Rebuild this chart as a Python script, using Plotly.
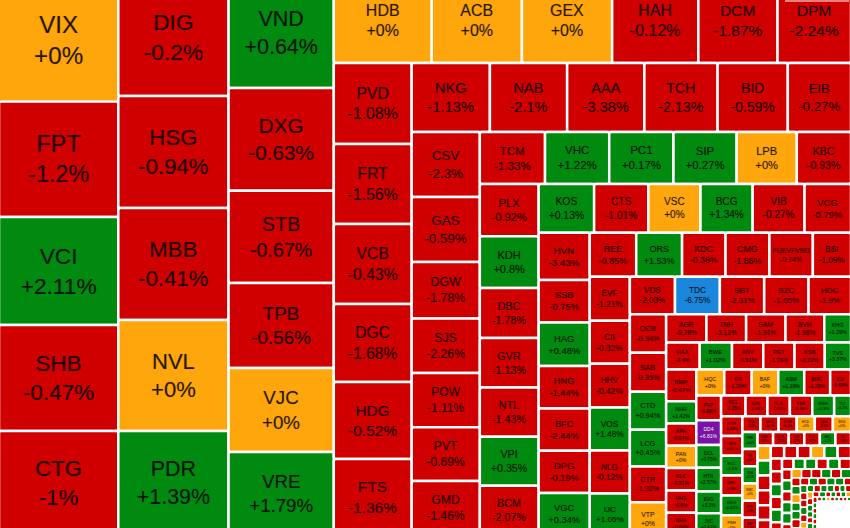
# Market heat map (treemap) of Vietnamese stocks, % change per ticker
import math
import plotly.graph_objects as go

FONT = 'Liberation Sans, Arial, sans-serif'
RED = '#D00000'
GREEN = '#008A0F'
AMBER = '#FFA60D'
FLOOR = '#1A87DC'
CEILING = '#7A12A8'

TICKERS = [
    'VIX', 'FPT', 'VCI', 'SHB', 'CTG',
    'DIG', 'HSG', 'MBB', 'NVL', 'PDR',
    'VND', 'DXG', 'STB', 'TPB', 'VJC', 'VRE',
    'HDB', 'ACB', 'GEX', 'HAH', 'DCM', 'DPM',
    'PVD', 'FRT', 'VCB', 'DGC', 'HDG', 'FTS',
    'NKG', 'NAB', 'AAA', 'TCH', 'BID', 'EIB',
    'CSV', 'GAS', 'DGW', 'SJS', 'POW', 'PVT', 'GMD',
    'TCM', 'VHC', 'PC1', 'SIP', 'LPB', 'KBC',
    'PLX', 'KDH', 'DBC', 'GVR', 'NTL', 'VPI', 'BCM',
    'KOS', 'CTS', 'VSC', 'BCG', 'VIB', 'VCG',
    'HVN', 'SSB', 'HAG', 'HNG', 'BFC', 'DPG', 'VGC',
    'REE', 'ORS', 'KDC', 'CMG', 'FUEVFVND', 'BSI',
    'EVF', 'CII', 'HHV', 'VOS', 'NLG', 'IJC',
    'VDS', 'TDC', 'SBT', 'SZC', 'HDC',
    'OCB', 'SAB', 'CTD', 'LCG', 'CTR', 'VTP',
    'AGR', 'TNH', 'SAM', 'BVH', 'KHG',
    'HAX', 'BWE', 'ANV', 'PET', 'KSB', 'TVS',
    'BMP', 'NHH', 'APH', 'PAN', 'DLC', 'HHS', 'NHA',
    'HQC', 'IDI', 'BAF', 'ASM', 'BMC', 'KIV',
    'PVP', 'DD4', 'DCL', 'HTN', 'EVG', 'JVC',
    'RCL', 'DRL', 'TLG', 'PNB', 'MSH', 'TV2',
    'SCR', 'YEG', 'ELC', 'DHC', 'GEG', 'PSH',
    'TTA', 'DXS', 'CSM', 'HCD', 'CRE', 'SKG',
    'PHR', 'GIL', 'TLH', 'SMC', 'VPH', 'AAT',
    'DBD', 'QCG', 'LDG', 'TCT', 'HBC', 'ITC',
    'HAP', 'ABS', 'TDH', 'VOF', 'FIT', 'NAF',
    'DAH', 'HID', 'VNG', 'CKG', 'APC', 'SFG',
    'FCN', 'PTB', 'DPR', 'GSP', 'TIP', 'VIP',
    'ST8', 'TNI', 'CCL', 'TDP', 'LSS', 'HVH',
    'VTO', 'DRC', 'PDN', 'SHI', 'CTF', 'TVB',
    'HUB', 'AST', 'C32', 'SVC', 'DTA', 'TYA',
    'HII', 'CLC', 'COM', 'DSN', 'GTA', 'ACC',
    'MIG', 'TCL', 'SRC', 'KMR', 'PGC', 'VAF',
    'DHA', 'SSC', 'THG', 'PJT', 'HTL', 'VFG',
    'CMV', 'LBM', 'SGT', 'TNC', 'RAL', 'HMC',
    'TMT', 'PLP', 'SVI', 'MDG', 'CTI', 'HAR',
    'EMC', 'SGR', 'PIT', 'VRC', 'NAV', 'TGG',
    'DMC', 'L10', 'TBC', 'CMX', 'TRC', 'DTL',
    'BTT', 'VSI', 'CIG', 'TCO', 'KPF', 'SBV',
    'BRC', 'TDW', 'LGC', 'HTI', 'VMD', 'NVT',
    'ADS', 'GMC', 'SMB', 'YBM', 'PAC', 'DXV',
    ' ',
]

CHANGES = [
    0, -1.2, 2.11, -0.47, -1,
    -0.2, -0.94, -0.41, 0, 1.39,
    0.64, -0.63, -0.67, -0.56, 0, 1.79,
    0, 0, 0, -0.12, -1.87, -2.24,
    -1.08, -1.56, -0.43, -1.68, -0.52, -1.36,
    -1.13, -2.1, -3.38, -2.13, -0.59, -0.27,
    -2.3, -0.59, -1.78, -2.26, -1.11, -0.69, -1.46,
    -1.33, 1.22, 0.17, 0.27, 0, -0.93,
    -0.92, 0.8, -1.78, -1.13, -1.43, 0.35, -2.07,
    0.13, -1.01, 0, 1.34, -0.27, -0.79,
    -3.43, -0.75, 0.48, -1.44, -2.44, -0.19, 0.34,
    -0.85, 1.53, -0.36, -1.86, -0.74, -1.09,
    -1.21, -0.32, -0.42, 1.48, -0.12, 1.05,
    -2.03, -6.75, -2.31, -1.05, -1.9,
    -0.34, -0.35, 0.94, 0.45, -1.32, 0,
    -0.78, -3.13, -1.91, -1.98, 1.29,
    -3.4, 1.02, -0.91, -1.76, -0.32, 3.37,
    -0.67, 1.42, -0.97, 0, -0.91, -0.8, -0.86,
    0, -1.29, 0, 1.39, -1.35, -0.99,
    -0.88, 6.81, 0.75, 2.57, 3.3, 0.41,
    -1.35, -1.08, -1.05, -1.38, 0.3, 1.1,
    -0.38, -0.55, 1.1, -0.9, 0.62, 0,
    -1.2, -0.7, -0.4, 0, -1.1, 0,
    0.8, -1.4, 0.5, 0, -0.6, -1.9,
    -0.5, -1.3, -0.8, -2.1, 1.2, -0.4,
    0, 0.7, -1.6, -0.3, -2.2, -1.1,
    -0.6, -1.7, -0.9, 0, 0.9, -1.5,
    -1.4, -0.2, 1.6, -0.8, 0.4, -1.2,
    -0.7, 0.6, 1.1, -1.8, 0.5, -0.3,
    -2.4, 0.9, -0.6, 1.3, 0.2, -1.1,
    0, -0.9, -1.3, 0.4, -0.5, 0.8,
    -1.6, 0.3, 0, 0.7, 1.4, -0.4,
    -0.8, -1.2, 0.6, -0.7, 0.9, 1.1,
    -1.5, 0.5, -0.2, -1, 0.3, -0.6,
    0, -0.4, 0.8, -1.3, 0.2, 0.7,
    -0.9, 1.2, -0.3, 0, -1.1, 0.5,
    0.6, -0.7, 0.4, -0.2, -1.6, 0.9,
    -1, 0.3, -0.5, 0.7, 0, -0.8,
    0.2, -1.2, 0.5, -0.4, 0.6, -0.9,
    -0.3, 0.4, 0, -0.7, 0.8, -0.1,
    -0.6, 0.5, -0.9, 0.3, -0.2, 0.7,
    None,
]

SIZES = [
    14697, 13745, 12852, 12614, 12376,
    12980, 12320, 12320, 12210, 11440,
    11550, 10784, 9692, 8925, 8820, 8715,
    8305, 7650, 7650, 7310, 6715, 6231,
    6294, 6216, 6216, 6061, 5983, 5905,
    5382, 5313, 5313, 5037, 4830, 4347,
    4420, 4420, 3850, 3700, 3680, 3660, 3674,
    3380, 3328, 3328, 3276, 3120, 2808,
    3070, 3040, 2925, 2905, 2895, 2885, 2883,
    2710, 2646, 2548, 2548, 2533, 2269,
    2397, 2170, 2220, 2170, 2150, 2155, 2141,
    2037, 2011, 1905, 1923, 1905, 1672,
    1755, 1720, 1755, 1720, 1720, 1658,
    1690, 1680, 1660, 1660, 1590,
    1390, 1418, 1368, 1332, 1296, 1188,
    1130, 1115, 1105, 1088, 750,
    909, 874, 846, 846, 819, 710,
    950, 670, 670, 670, 670, 670, 670,
    725, 712, 686, 672, 672, 539,
    613, 613, 564, 588, 539, 539,
    504, 452, 462, 462, 452, 347,
    420, 420, 420, 420, 420, 420,
    284, 284, 284, 284, 284, 284,
    260, 260, 260, 260, 260, 260,
    213, 213, 213, 213, 213, 213,
    197, 197, 197, 197, 197, 197,
    170, 170, 170, 170, 170, 170,
    143, 143, 143, 143, 143, 143,
    124, 124, 124, 124, 124, 124,
    106, 106, 106, 106, 106, 106,
    87, 87, 87, 87, 87, 87,
    72, 72, 72, 72, 72, 72,
    63, 63, 63, 63, 63, 63,
    50, 50, 50, 50, 50, 50,
    44, 44, 44, 44, 44, 44,
    37, 37, 37, 37, 37, 37,
    33, 33, 33, 33, 33, 33,
    26, 26, 26, 26, 26, 26,
    24, 24, 24, 24, 24, 24,
    18, 18, 18, 18, 18, 18,
    16, 16, 16, 16, 16, 16,
    1070,
]

# smallest tiles carry no readable text
LAST_LABELLED = 150
# the top row is set smaller than its area would give
FONT_OVERRIDE = {'HDB': 16, 'ACB': 16, 'GEX': 16, 'HAH': 16, 'DCM': 15.5, 'DPM': 15.5, 'BMP': 6.2}


def cell_color(change):
    if change is None:
        return 'white'
    if change <= -6.5:
        return FLOOR
    if change >= 6.5:
        return CEILING
    if change == 0:
        return AMBER
    return RED if change < 0 else GREEN


def cell_text(i):
    if CHANGES[i] is None or i >= LAST_LABELLED:
        return ''
    return f'{TICKERS[i]}<br>{CHANGES[i]:+g}%'


def cell_font(i):
    if TICKERS[i] in FONT_OVERRIDE:
        return FONT_OVERRIDE[TICKERS[i]]
    return max(1, round(0.2 * math.sqrt(SIZES[i]), 1))


fig = go.Figure(go.Treemap(
    labels=TICKERS,
    parents=[''] * len(TICKERS),
    values=SIZES,
    text=[cell_text(i) for i in range(len(TICKERS))],
    textinfo='text',
    textposition='middle center',
    sort=False,
    hoverinfo='skip',
    textfont=dict(
        family=FONT,
        size=[cell_font(i) for i in range(len(TICKERS))],
        color=['white' if c is not None and c >= 6.5 else 'rgba(0,0,0,0.78)' for c in CHANGES],
        shadow='0px 0px 1px rgba(0,0,0,0.45)',
    ),
    marker=dict(
        colors=[cell_color(c) for c in CHANGES],
        # thinner gaps on the tiny tiles so they stay visible as dots
        line=dict(color='white', width=[2.5 if s >= 100 else 1.5 for s in SIZES]),
        cornerradius=2,
        pad=dict(t=0, l=0, r=0, b=0),
    ),
    tiling=dict(packing='squarify', squarifyratio=1, pad=0),
    pathbar=dict(visible=False),
    root=dict(color='white'),
))

fig.update_layout(
    width=852,
    height=557,
    margin=dict(l=0, r=0, t=0, b=0),
    paper_bgcolor='white',
    font=dict(family=FONT),
)

# top of the map runs off the frame in the source picture
crop = """
document.documentElement.style.overflow='hidden';
document.body.style.margin='0';
var plot = document.getElementById('{plot_id}');
plot.style.marginTop='-22px';
plot.style.marginLeft='-1px';
"""
fig.write_html("out.html", post_script=crop)
